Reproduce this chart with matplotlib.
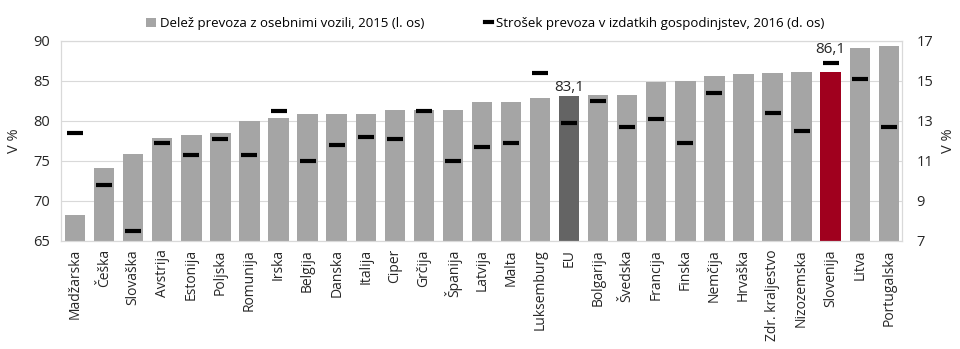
import matplotlib
matplotlib.use("Agg")
import matplotlib.pyplot as plt
from matplotlib.lines import Line2D
from matplotlib.patches import Patch
import numpy as np

plt.rcParams["font.family"] = ["Open Sans", "DejaVu Sans"]

countries = [
    "Madžarska", "Češka", "Slovaška", "Avstrija", "Estonija", "Poljska",
    "Romunija", "Irska", "Belgija", "Danska", "Italija", "Ciper", "Grčija",
    "Španija", "Latvija", "Malta", "Luksemburg", "EU", "Bolgarija", "Švedska",
    "Francija", "Finska", "Nemčija", "Hrvaška", "Zdr. kraljestvo",
    "Nizozemska", "Slovenija", "Litva", "Portugalska",
]
# share of transport by passenger cars, 2015 (left axis)
car_share = [
    68.2, 74.1, 75.8, 77.8, 78.2, 78.5, 80.0, 80.4, 80.9, 80.9, 80.9, 81.3,
    81.4, 81.4, 82.3, 82.3, 82.9, 83.1, 83.2, 83.2, 84.8, 85.0, 85.6, 85.9,
    86.0, 86.1, 86.1, 89.1, 89.4,
]
# transport costs in household expenditure, 2016 (right axis), Hrvaška missing
cost_share = [
    12.4, 9.8, 7.5, 11.9, 11.3, 12.1, 11.3, 13.5, 11.0, 11.8, 12.2, 12.1,
    13.5, 11.0, 11.7, 11.9, 15.4, 12.9, 14.0, 12.7, 13.1, 11.9, 14.4, np.nan,
    13.4, 12.5, 15.9, 15.1, 12.7,
]

grey = "#a5a5a5"
colors = [grey] * len(countries)
colors[countries.index("EU")] = "#646464"
colors[countries.index("Slovenija")] = "#a0001e"

fig, ax = plt.subplots(figsize=(9.6, 3.49), dpi=100)
fig.subplots_adjust(left=0.064, right=0.94, top=0.883, bottom=0.31)

x = np.arange(len(countries))
ax.bar(x, car_share, width=0.7, color=colors, zorder=2)
ax.set_ylim(65, 90)
ax.set_yticks([65, 70, 75, 80, 85, 90])
ax.set_xlim(-0.47, len(countries) - 0.53)
ax.set_xticks(x)
ax.set_xticklabels(countries, rotation=90, fontsize=10, color="#262626")
ax.tick_params(axis="x", length=0, pad=6)
ax.tick_params(axis="y", length=0, labelsize=10.5, colors="#262626", pad=8)
ax.grid(axis="y", color="#d9d9d9", linewidth=0.8, zorder=0)
ax.set_ylabel("V %", fontsize=10.5, color="#262626", labelpad=8)
for s in ax.spines.values():
    s.set_color("#d9d9d9")

ax2 = ax.twinx()
ax2.plot(x, cost_share, linestyle="none", marker="_", markersize=12,
         markeredgewidth=3, color="black", zorder=3)
ax2.set_ylim(7, 17)
ax2.set_yticks([7, 9, 11, 13, 15, 17])
ax2.tick_params(axis="y", length=0, labelsize=10.5, colors="#262626", pad=10)
ax2.set_ylabel("V %", fontsize=10.5, color="#262626", labelpad=6)
for s in ax2.spines.values():
    s.set_color("#d9d9d9")

i_eu = countries.index("EU")
ax.annotate("83,1", (i_eu, car_share[i_eu]), xytext=(0, 1),
            textcoords="offset points", ha="center", va="bottom",
            fontsize=11, color="#262626")
i_si = countries.index("Slovenija")
ax.annotate("86,1", (i_si, car_share[i_si]), xytext=(0, 11),
            textcoords="offset points", ha="center", va="bottom",
            fontsize=11, color="#262626")

bar_handle = Patch(facecolor=grey,
                   label="Delež prevoza z osebnimi vozili, 2015 (l. os)")
line_handle = Line2D([], [], color="black", linewidth=3,
                     label="Strošek prevoza v izdatkih gospodinjstev, 2016 (d. os)")
fig.legend(handles=[bar_handle], loc="upper center",
           bbox_to_anchor=(0.297, 0.985), frameon=False, fontsize=9.5,
           handlelength=0.7, handleheight=0.7, handletextpad=0.3)
fig.legend(handles=[line_handle], loc="upper center",
           bbox_to_anchor=(0.682, 0.985), frameon=False, fontsize=9.5,
           handlelength=0.5, handletextpad=0.3)

fig.savefig("out.png", dpi=100)
